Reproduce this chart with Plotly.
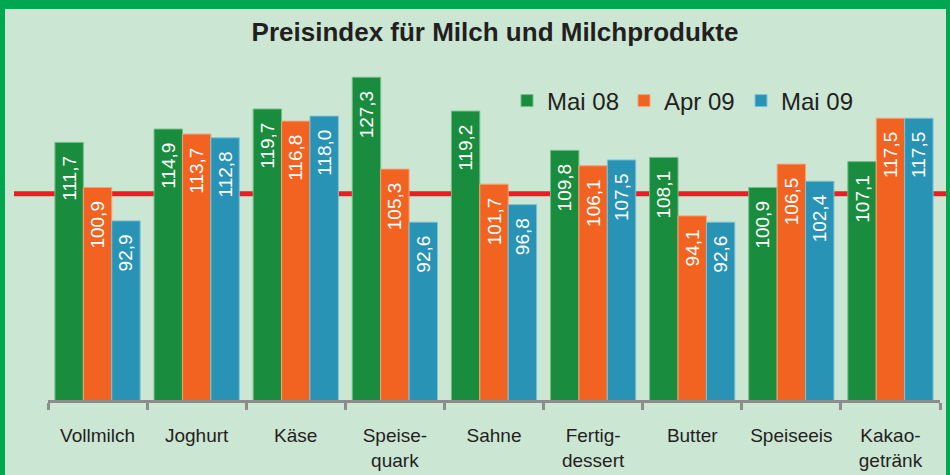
import plotly.graph_objects as go

categories = ["Vollmilch", "Joghurt", "Käse", "Speise-<br>quark", "Sahne",
              "Fertig-<br>dessert", "Butter", "Speiseeis", "Kakao-<br>getränk"]
series_names = ["Mai 08", "Apr 09", "Mai 09"]
mai08 = [111.7, 114.9, 119.7, 127.3, 119.2, 109.8, 108.1, 100.9, 107.1]
apr09 = [100.9, 113.7, 116.8, 105.3, 101.7, 106.1, 94.1, 106.5, 117.5]
mai09 = [92.9, 112.8, 118.0, 92.6, 96.8, 107.5, 92.6, 102.4, 117.5]
reference_level = 99.4

colors = ["#1a8c3e", "#f26322", "#2893b4"]
edge = ["#6fbf86", "#f7a27a", "#7cc3d6"]
FONT = "Liberation Sans, Arial, sans-serif"

fig = go.Figure()
for name, vals, c, e in zip(series_names, [mai08, apr09, mai09], colors, edge):
    fig.add_trace(go.Bar(
        x=categories, y=vals, name=name,
        marker=dict(color=c, line=dict(color=e, width=1)),
        text=[f"{v:.1f}".replace(".", ",") + "\u00a0\u00a0" for v in vals],
        textposition="inside", insidetextanchor="end", textangle=-90,
        insidetextfont=dict(color="white", size=19, family=FONT),
        cliponaxis=False,
    ))

W, H = 950, 475
L, R, T, B = 48, 10, 66, 75
pw, ph = W - L - R, H - T - B

def px(x):
    return (x - L) / pw

def py(y):
    return (H - B - y) / ph

shapes = [
    dict(type="line", xref="paper", yref="y", x0=px(14), x1=px(952),
         y0=reference_level, y1=reference_level,
         line=dict(color="#ec1c24", width=5), layer="below"),
    dict(type="rect", xref="paper", yref="paper", x0=px(-2), x1=px(952),
         y0=py(9), y1=py(-2), fillcolor="#00a650", line=dict(width=0)),
    dict(type="rect", xref="paper", yref="paper", x0=px(-2), x1=px(5),
         y0=py(477), y1=py(0), fillcolor="#00a650", line=dict(width=0)),
    dict(type="rect", xref="paper", yref="paper", x0=px(946), x1=px(952),
         y0=py(477), y1=py(0), fillcolor="#00a650", line=dict(width=0)),
]

fig.update_layout(
    width=W, height=H,
    margin=dict(l=L, r=R, t=T, b=B, autoexpand=False),
    paper_bgcolor="#cce6d4", plot_bgcolor="#cce6d4",
    barmode="group", bargap=0.14, bargroupgap=0,
    uniformtext=dict(minsize=19, mode="show"),
    title=dict(text="<b>Preisindex für Milch und Milchprodukte</b>",
               x=495 / W, xanchor="center", y=1 - 32 / H, yanchor="middle",
               font=dict(family=FONT, size=26, color="#231f20")),
    legend=dict(orientation="h", x=px(507), xanchor="left", y=py(101), yanchor="middle",
                font=dict(family=FONT, size=24, color="#231f20"),
                bgcolor="rgba(0,0,0,0)", traceorder="normal",
                entrywidth=72, entrywidthmode="pixels"),
    shapes=shapes,
    showlegend=True,
)
fig.update_xaxes(range=[-0.5, 8.5], showline=True, linecolor="#8c8c8c", linewidth=3,
                 ticks="outside", tickson="boundaries", ticklen=7, tickwidth=3,
                 tickcolor="#8c8c8c", showgrid=False, tickangle=0, automargin=False,
                 tickfont=dict(family=FONT, size=19, color="#231f20"),
                 ticklabelstandoff=16)
fig.update_yaxes(range=[50, 130], visible=False, showgrid=False, zeroline=False,
                 automargin=False)

fig.write_html("out.html")
